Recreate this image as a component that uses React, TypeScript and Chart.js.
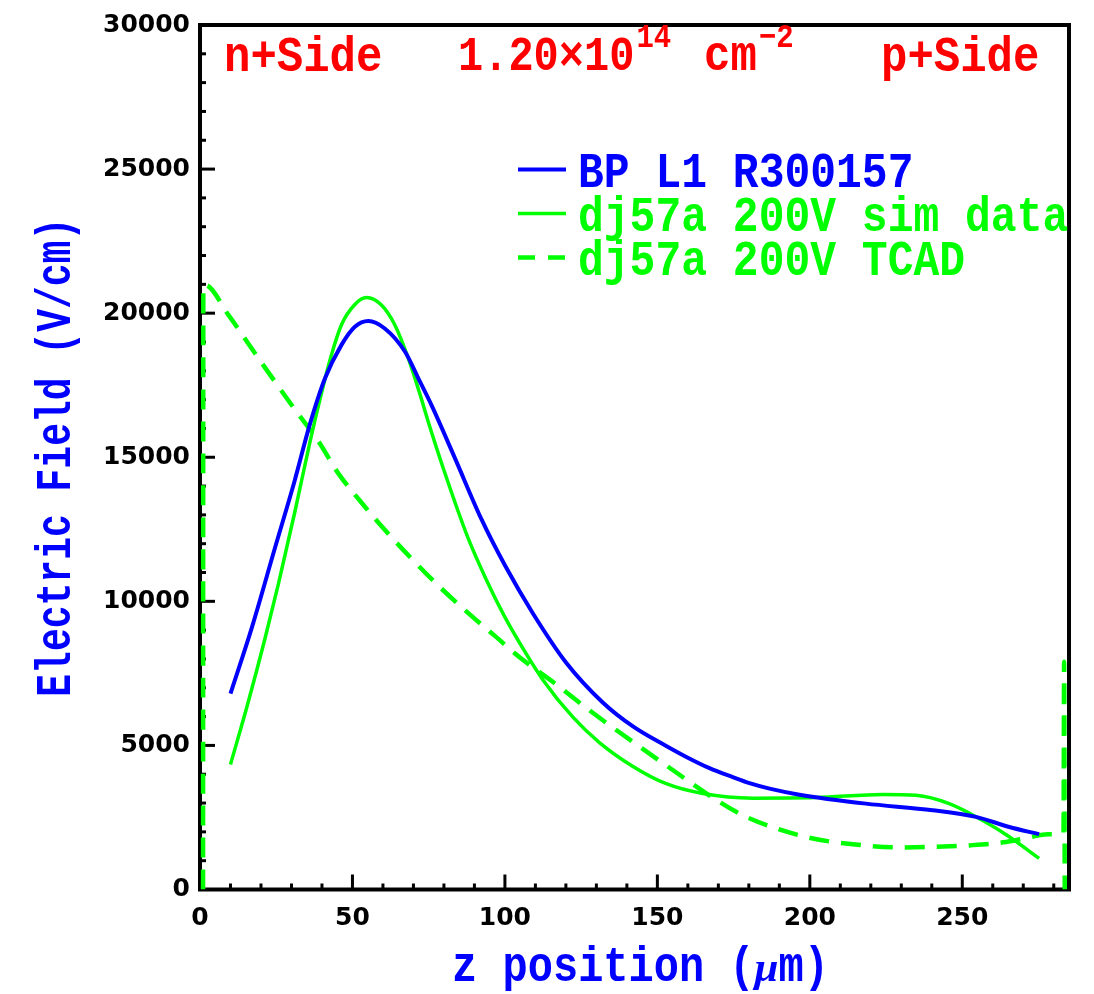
import { useEffect, useRef } from "react";
import { Chart, registerables } from "chart.js";

Chart.register(...registerables);

// ---------- data ----------
const BP_X = [10, 17, 24.6, 31, 36, 41, 46.4, 50.8, 55.2, 60.6, 67.2, 72.1, 76, 83.6, 92.3, 100, 109.2, 120.1, 132, 142, 152.9, 159.5, 167.1, 174.7, 180.2, 186.8, 196.6, 218.4, 240.3, 254.5, 265.4, 275.2];
const BP_Y = [6800, 9090, 11860, 14170, 16130, 17740, 18900, 19530, 19730, 19470, 18670, 17630, 16790, 14970, 12850, 11250, 9580, 7870, 6500, 5660, 4980, 4600, 4210, 3900, 3690, 3500, 3290, 2980, 2750, 2520, 2170, 1920];

const SIM_X = [10, 15.8, 21.3, 25.7, 31.1, 36, 39.9, 43.1, 46.4, 50.8, 54.6, 59.5, 63.9, 68.3, 72.1, 74.8, 80, 87.9, 93.9, 100, 106, 112.3, 122.3, 131, 142, 152.9, 164.9, 181.3, 202, 224, 234.8, 245.7, 256.6, 265.4, 275.2];
const SIM_Y = [4340, 6500, 8700, 10600, 13100, 15500, 17250, 18550, 19600, 20300, 20540, 20280, 19590, 18440, 17200, 16250, 14550, 12200, 10750, 9450, 8350, 7300, 5980, 5100, 4270, 3670, 3330, 3170, 3190, 3300, 3270, 2980, 2400, 1830, 1080];

const TCAD_X = [1.0, 1.1, 1.6, 9.3, 16.9, 24.6, 31.1, 38.8, 45.3, 53, 60.6, 69.4, 78.1, 87.9, 96.7, 104.8, 115.8, 126.7, 133.3, 145.2, 156.2, 167.1, 178, 189, 201, 214.1, 229.4, 240.3, 253.4, 264.3, 272, 278, 283.2, 283.4, 283.6];
const TCAD_Y = [0, 20900, 20980, 19940, 18780, 17620, 16660, 15560, 14450, 13420, 12480, 11480, 10550, 9600, 8800, 8060, 7200, 6300, 5780, 4880, 4060, 3260, 2580, 2120, 1770, 1570, 1460, 1480, 1540, 1650, 1810, 1920, 1980, 7900, 0];

const SERIES_LABELS = ["BP L1 R300157", "dj57a 200V sim data", "dj57a 200V TCAD"];

const X_MIN = 0;
const X_MAX = 285;
const Y_MIN = 0;
const Y_MAX = 30000;
const X_MAJOR = 50;
const X_MINOR = 10;
const Y_MAJOR = 5000;
const Y_MINOR = 1000;

const X_TITLE_PARTS = ["z position (", "\u03bc", "m)"];
const Y_TITLE = "Electric Field (V/cm)";
const LEFT_NOTE = "n+Side";
const RIGHT_NOTE = "p+Side";
const FLUENCE_BASE = "1.20\u00d710";
const FLUENCE_EXP = "14";
const FLUENCE_UNIT = "cm";
const FLUENCE_UNIT_EXP = "\u22122";

const BLUE = "#0000ff";
const GREEN = "#00ff00";
const RED = "#ff0000";
const MONO = '"Liberation Mono", "Courier New", monospace';
const SANS = '"DejaVu Sans", "Liberation Sans", sans-serif';

function toPoints(xs: number[], ys: number[]) {
  return xs.map((x, i) => ({ x, y: ys[i] }));
}

function stretchText(
  ctx: CanvasRenderingContext2D,
  text: string,
  x: number,
  y: number,
  size: number,
  sy: number,
  color: string,
  align: CanvasTextAlign = "left",
  style = "bold",
  family = MONO
) {
  ctx.save();
  ctx.translate(x, y);
  ctx.scale(1, sy);
  ctx.font = `${style} ${size}px ${family}`;
  ctx.fillStyle = color;
  ctx.textAlign = align;
  ctx.textBaseline = "alphabetic";
  ctx.fillText(text, 0, 0);
  const w = ctx.measureText(text).width;
  ctx.restore();
  return w;
}

const framePlugin = {
  id: "frameAndTicks",
  beforeDatasetsDraw(chart: any) {
    const { ctx, chartArea } = chart;
    const xs = chart.scales.x;
    const ys = chart.scales.y;
    ctx.save();
    ctx.strokeStyle = "#000";
    ctx.lineWidth = 3;
    ctx.lineCap = "butt";
    for (let v = X_MIN; v <= X_MAX; v += X_MINOR) {
      const px = xs.getPixelForValue(v);
      const len = v % X_MAJOR === 0 ? 15 : 6;
      ctx.beginPath();
      ctx.moveTo(px, chartArea.bottom);
      ctx.lineTo(px, chartArea.bottom - len);
      ctx.stroke();
    }
    for (let v = Y_MIN; v <= Y_MAX; v += Y_MINOR) {
      const py = ys.getPixelForValue(v);
      const len = v % Y_MAJOR === 0 ? 15 : 6;
      ctx.beginPath();
      ctx.moveTo(chartArea.left, py);
      ctx.lineTo(chartArea.left + len, py);
      ctx.stroke();
    }
    ctx.lineWidth = 4;
    ctx.strokeRect(
      chartArea.left,
      chartArea.top,
      chartArea.right - chartArea.left,
      chartArea.bottom - chartArea.top
    );
    ctx.restore();
  },
  afterDraw(chart: any) {
    const { ctx, chartArea } = chart;
    // top annotations
    stretchText(ctx, LEFT_NOTE, 224, 71, 44, 1.15, RED);
    let x = 458;
    x += stretchText(ctx, FLUENCE_BASE, x, 70, 42, 1.15, RED);
    stretchText(ctx, FLUENCE_EXP, x + 2, 47, 29, 1.15, RED);
    const cmW = stretchText(ctx, FLUENCE_UNIT, 704, 70, 44, 1.15, RED);
    stretchText(ctx, FLUENCE_UNIT_EXP, 704 + cmW + 2, 47, 29, 1.15, RED);
    stretchText(ctx, RIGHT_NOTE, 881, 71, 44, 1.15, RED);

    // legend
    chart.data.datasets.forEach((ds: any, i: number) => {
      const ly = 169.5 + 44 * i;
      ctx.save();
      ctx.strokeStyle = ds.borderColor;
      ctx.lineWidth = ds.borderWidth;
      ctx.setLineDash(ds.borderDash && ds.borderDash.length ? [17, 13] : []);
      ctx.beginPath();
      ctx.moveTo(518, ly);
      ctx.lineTo(566, ly);
      ctx.stroke();
      ctx.restore();
      stretchText(ctx, ds.label, 578, ly + 17.5, 43, 1.15, ds.borderColor);
    });

    // x title
    const cx = (chartArea.left + chartArea.right) / 2 + 6;
    const xs = 42;
    ctx.save();
    ctx.font = `bold ${xs}px ${MONO}`;
    const w0 = ctx.measureText(X_TITLE_PARTS[0]).width;
    const w2 = ctx.measureText(X_TITLE_PARTS[2]).width;
    ctx.font = `italic bold ${xs + 1}px "Liberation Serif", serif`;
    const w1 = ctx.measureText(X_TITLE_PARTS[1]).width;
    ctx.restore();
    let tx = cx - (w0 + w1 + w2) / 2;
    tx += stretchText(ctx, X_TITLE_PARTS[0], tx, 981, xs, 1.18, BLUE);
    tx += stretchText(ctx, X_TITLE_PARTS[1], tx, 981, xs + 1, 1.0, BLUE, "left", "italic bold", '"Liberation Serif", serif');
    stretchText(ctx, X_TITLE_PARTS[2], tx, 981, xs, 1.18, BLUE);

    // y title
    const cy = (chartArea.top + chartArea.bottom) / 2;
    ctx.save();
    ctx.translate(70, cy);
    ctx.rotate(-Math.PI / 2);
    ctx.scale(1, 1.3);
    ctx.font = `bold 38px ${MONO}`;
    ctx.fillStyle = BLUE;
    ctx.textAlign = "center";
    ctx.textBaseline = "alphabetic";
    ctx.fillText(Y_TITLE, 0, 0);
    ctx.restore();
  },
};

export default function App() {
  const ref = useRef<HTMLCanvasElement | null>(null);
  useEffect(() => {
    if (!ref.current) return;
    const chart = new Chart(ref.current, {
      type: "line",
      data: {
        datasets: [
          {
            label: SERIES_LABELS[0],
            data: toPoints(BP_X, BP_Y),
            borderColor: BLUE,
            borderWidth: 4,
            pointRadius: 0,
            fill: false,
            cubicInterpolationMode: "monotone",
          },
          {
            label: SERIES_LABELS[1],
            data: toPoints(SIM_X, SIM_Y),
            borderColor: GREEN,
            borderWidth: 3.5,
            pointRadius: 0,
            fill: false,
            cubicInterpolationMode: "monotone",
          },
          {
            label: SERIES_LABELS[2],
            data: toPoints(TCAD_X, TCAD_Y),
            borderColor: GREEN,
            borderWidth: 4.5,
            borderDash: [20, 12],
            pointRadius: 0,
            fill: false,
            cubicInterpolationMode: "monotone",
          },
        ],
      },
      options: {
        responsive: false,
        animation: false,
        layout: { padding: { top: 22.5, right: 25, left: 0, bottom: 0 } },
        plugins: {
          legend: { display: false },
          tooltip: { enabled: false },
          title: { display: false },
        },
        scales: {
          x: {
            type: "linear",
            min: X_MIN,
            max: X_MAX,
            grid: { display: false, drawTicks: false },
            border: { display: false },
            ticks: {
              stepSize: X_MAJOR,
              autoSkip: false,
              maxRotation: 0,
              padding: 14,
              color: "#000",
              font: { family: SANS, weight: "bold", size: 25 },
              callback: (v: any) => String(v),
            },
            afterBuildTicks: (s: any) => {
              s.ticks = s.ticks.filter((t: any) => t.value % X_MAJOR === 0);
            },
            afterFit: (s: any) => {
              s.height = 104.5;
            },
          },
          y: {
            type: "linear",
            min: Y_MIN,
            max: Y_MAX,
            grid: { display: false, drawTicks: false },
            border: { display: false },
            ticks: {
              stepSize: Y_MAJOR,
              autoSkip: false,
              padding: 10,
              color: "#000",
              font: { family: SANS, weight: "bold", size: 25 },
              callback: (v: any) => String(v),
            },
            afterFit: (s: any) => {
              s.width = 200;
            },
          },
        },
      },
      plugins: [framePlugin],
    } as any);
    return () => chart.destroy();
  }, []);

  return (
    <div style={{ position: "fixed", left: 0, top: 0, width: 1094, height: 994, background: "#fff" }}>
      <canvas ref={ref} width={1094} height={994} style={{ width: 1094, height: 994, display: "block" }} />
    </div>
  );
}
